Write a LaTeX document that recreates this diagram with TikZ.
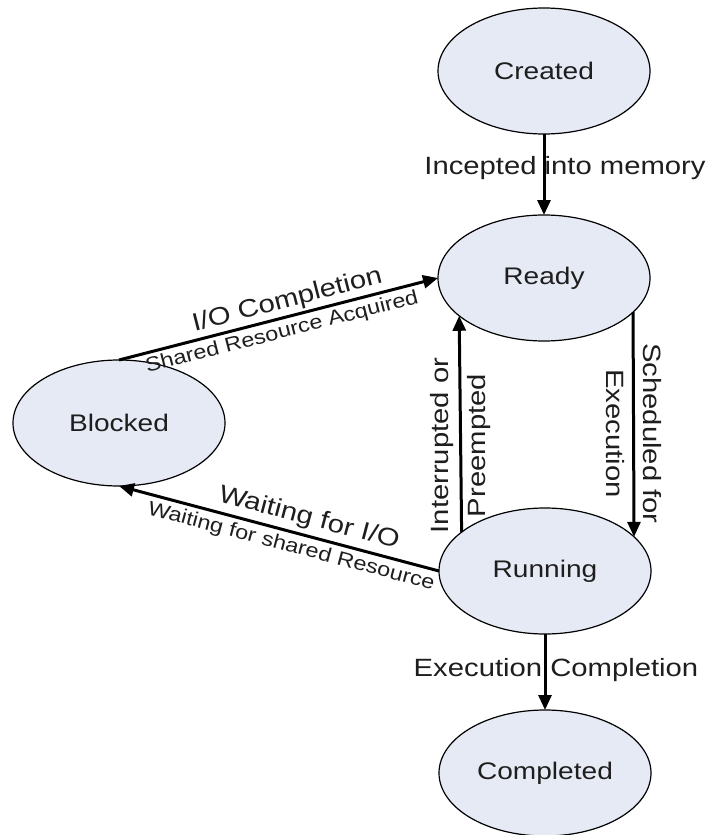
\documentclass[tikz,border=0pt]{standalone}
\usepackage{fontspec}
\setmainfont{Liberation Sans}[FakeStretch=1.17]
\usetikzlibrary{arrows.meta,shapes.geometric}
\definecolor{statefill}{RGB}{230,234,245}
\definecolor{ink}{RGB}{30,30,30}
\begin{document}
\begin{tikzpicture}[x=1pt,y=-1pt,
  state/.style={ellipse, draw=black, line width=1.2pt, fill=statefill,
    minimum width=212pt, minimum height=126pt, inner sep=0pt, outer sep=0pt,
    font=\fontsize{24}{29}\selectfont, text=ink},
  trans/.style={line width=3pt, -{Triangle[length=15pt,width=13pt]}},
  lab/.style={font=\fontsize{25}{37}\selectfont, text=ink, inner sep=0pt, align=center},
  slab/.style={font=\fontsize{20}{24}\selectfont, text=ink, inner sep=0pt}]
\useasboundingbox (0,0) rectangle (712,835);
\node[state] (created) at (544,71) {Created};
\node[state] (ready) at (544,278) {Ready};
\node[state] (blocked) at (119,423) {Blocked};
\node[state] (running) at (545,571) {Running};
\node[state] (completed) at (545,773) {Completed};

\draw[trans] (created) -- (ready)
  node[lab, pos=0.42, xshift=21pt] {Incepted into memory};
\draw[trans] (blocked.north) -- (ready.west)
  node[lab, sloped, pos=0.54, above=2.5pt] {I/O Completion}
  node[slab, sloped, pos=0.5, below=3.5pt] {Shared Resource Acquired};
\draw[trans] (running.west) -- (blocked.south)
  node[lab, sloped, pos=0.42, above=4pt] {Waiting for I/O}
  node[slab, sloped, pos=0.45, below=4pt] {Waiting for shared Resource};
\draw[trans] (running.155.7) -- (ready.204.3)
  node[lab, rotate=90, pos=0.40] {Interrupted or\\Preempted};
\draw[trans] (ready.-21.9) -- (running.21.9)
  node[lab, rotate=-90, pos=0.54] {Scheduled for\\Execution};
\draw[trans] (running) -- (completed)
  node[lab, pos=0.47, xshift=11pt] {Execution Completion};
\end{tikzpicture}
\end{document}
